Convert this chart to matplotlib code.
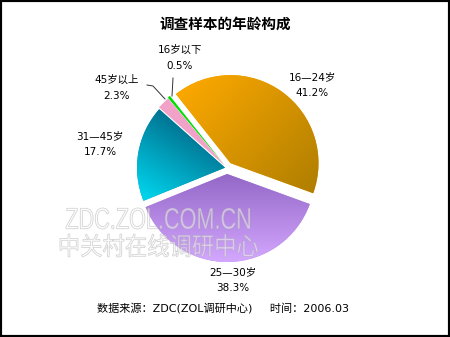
import numpy as np
import matplotlib
matplotlib.use('Agg')
import matplotlib.pyplot as plt
from matplotlib.colors import LinearSegmentedColormap
from matplotlib.patches import Rectangle, PathPatch
from matplotlib.textpath import TextPath
from matplotlib.font_manager import FontProperties
from matplotlib.transforms import Affine2D

plt.rcParams['font.family'] = ['DejaVu Sans', 'Noto Sans CJK SC']

# data (clockwise from the 16-24 slice)
labels = ['16—24岁', '16岁以下', '45岁以上', '31—45岁', '25—30岁']
values = [41.2, 0.5, 2.3, 17.7, 38.3]
pct_text = ['41.2%', '0.5%', '2.3%', '17.7%', '38.3%']

title = '调查样本的年龄构成'
source = '数据来源：ZDC(ZOL调研中心)     时间：2006.03'

# pixel layout (image coords, y down)
cx, cy, r = 227, 168, 88
explode = [6, 4, 3, 2, 6]
flat = ['#F5A000', '#00E000', '#F2A2C8', '#0098B8', '#B08AE8']
# gradient: (start point, end point, start colour, end colour)
grads = {
    0: ((175, 80), (315, 215), '#FFAA00', '#A87A00'),
    3: ((205, 110), (140, 215), '#005878', '#00E8FF'),
    4: ((228, 172), (228, 262), '#9266C6', '#D4A8FF'),
}
label_pos = [(312, 85), (180, 58), (117, 88), (100, 144), (233, 280)]

fig = plt.figure(figsize=(4.5, 3.37), dpi=100)
ax = fig.add_axes([0, 0, 1, 1])

wedges, _ = ax.pie(values, center=(cx, cy), radius=r, explode=explode,
                   startangle=20, counterclock=False, colors=flat,
                   wedgeprops=dict(linewidth=0, edgecolor='none'),
                   labeldistance=None, frame=True)

# shading like the original
x0, x1, y0, y1 = cx - r - 15, cx + r + 15, cy - r - 15, cy + r + 15
X, Y = np.meshgrid(np.arange(x0, x1), np.arange(y0, y1))
for i, (p, q, c1, c2) in grads.items():
    d = np.array(q, float) - np.array(p, float)
    t = ((X - p[0]) * d[0] + (Y - p[1]) * d[1]) / (d @ d)
    cmap = LinearSegmentedColormap.from_list('g%d' % i, [c1, c2])
    im = ax.imshow(np.clip(t, 0, 1), cmap=cmap, vmin=0, vmax=1,
                   extent=(x0, x1, y1, y0), origin='upper',
                   interpolation='bilinear', zorder=2)
    im.set_clip_path(wedges[i])

for (x, y), lab, pc in zip(label_pos, labels, pct_text):
    ax.text(x, y - 8, lab, ha='center', va='center', fontsize=7.5, zorder=5)
    ax.text(x, y + 8, pc, ha='center', va='center', fontsize=7.5, zorder=5)

# leader lines for the small slices
ax.plot([147, 153, 165], [85, 86, 99], color='#333333', lw=0.7, zorder=5)
ax.plot([173, 172], [78, 96], color='#333333', lw=0.7, zorder=5)

ax.text(225, 24, title, ha='center', va='center', fontsize=10.5,
        fontweight='bold', family=['Noto Sans CJK SC'], zorder=5)
ax.text(223, 308, source, ha='center', va='center', fontsize=8, zorder=5)


# watermark
def mark(s, family, left, top, w, h):
    tp = TextPath((0, 0), s, size=1, prop=FontProperties(family=family))
    bb = tp.get_extents()
    tr = (Affine2D().translate(-bb.x0, -bb.y1)
          .scale(w / bb.width, -h / bb.height).translate(left, top))
    ax.add_patch(PathPatch(tr.transform_path(tp), facecolor='white',
                           edgecolor='#a8a8a8', lw=0.6, alpha=0.5, zorder=4))


mark('ZDC.ZOL.COM.CN', 'Liberation Sans', 66, 208, 184, 21)
mark('中关村在线调研中心', 'Noto Sans CJK SC', 60, 234, 198, 23)

ax.set_xlim(0, 450)
ax.set_ylim(337, 0)
ax.set_aspect('equal')
ax.axis('off')

fig.patches.append(Rectangle((0, 0), 1, 1, transform=fig.transFigure,
                             fill=False, edgecolor='black', lw=3))

fig.savefig('out.png', dpi=100)
